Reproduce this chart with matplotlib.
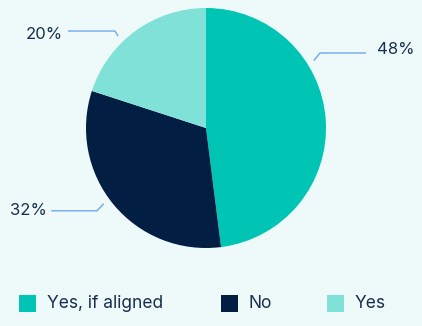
import matplotlib.pyplot as plt
import numpy as np
from matplotlib.patches import Rectangle

# survey answers, share of respondents (%)
categories = ['Yes, if aligned', 'No', 'Yes']
shares = [48, 32, 20]
colors = ['#00C5B5', '#021E42', '#80E1D8']

# where each leader line touches the pie (degrees), elbow and label ends
label_angles = [32, 216.5, 133.7]
elbow_pts = [(0.95, 0.625), (-0.908, -0.69), (-0.758, 0.808)]
line_ends = [1.333, -1.29, -1.15]
text_shift = [3, 0, -3]  # px, nudges label text off the line

bg = '#EDFAF9'
text_color = '#1B2E4E'
line_color = '#6FA8F0'

plt.rcParams['font.family'] = ['Inter', 'DejaVu Sans']

fig = plt.figure(figsize=(4.22, 3.26), dpi=100)
fig.patch.set_facecolor(bg)
ax = fig.add_axes([0, 0, 1, 1])
ax.set_facecolor(bg)

# pixel-like frame: pie radius is 1 unit = 120 px, centred at (206, 128)
scale = 120.0
xlim = (-206 / scale, (422 - 206) / scale)
ylim = ((128 - 326) / scale, 128 / scale)

ax.pie(shares, colors=colors, startangle=90, counterclock=False,
       radius=1.0, center=(0, 0), frame=True,
       wedgeprops=dict(linewidth=0))
ax.set_xlim(*xlim)
ax.set_ylim(*ylim)
ax.set_aspect('auto')
ax.axis('off')

for val, ang, elbow, xend, dy in zip(shares, label_angles, elbow_pts,
                                     line_ends, text_shift):
    a = np.deg2rad(ang)
    r0 = 1.06
    x0, y0 = r0 * np.cos(a), r0 * np.sin(a)
    ax.plot([x0, elbow[0], xend], [y0, elbow[1], elbow[1]],
            color=line_color, lw=1.0, solid_capstyle='butt')
    ty = elbow[1] + dy / scale
    if xend > 0:
        ax.text(xend + 0.09, ty, f'{val}%', ha='left', va='center',
                fontsize=12, color=text_color)
    else:
        ax.text(xend - 0.04, ty, f'{val}%', ha='right', va='center',
                fontsize=12, color=text_color)

# legend row along the bottom
sq_x = [19, 221, 327]
sq = 17
leg_y = 303.5
for name, col, px in zip(categories, colors, sq_x):
    x = (px - 206) / scale
    y = (128 - leg_y - sq / 2) / scale
    ax.add_patch(Rectangle((x, y), sq / scale, sq / scale,
                           facecolor=col, edgecolor='none'))
    ax.text((px + 28 - 206) / scale, (128 - leg_y) / scale, name,
            ha='left', va='center', fontsize=12.5, color=text_color)

plt.savefig('out.png', dpi=100, facecolor=bg)
